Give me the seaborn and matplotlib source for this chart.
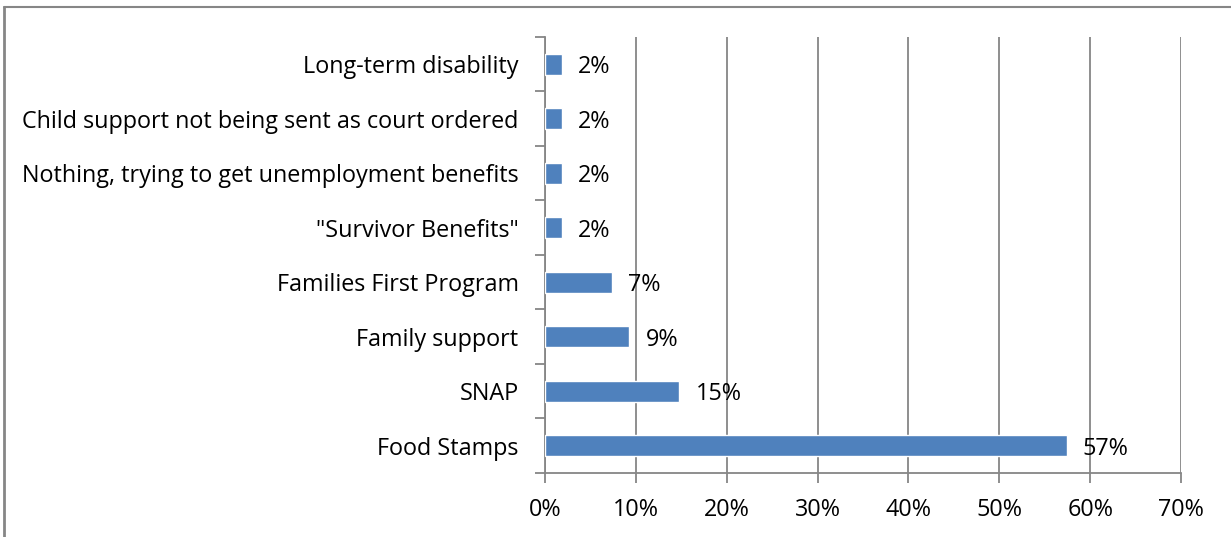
import numpy as np
import pandas as pd
import seaborn as sns
import matplotlib.pyplot as plt
from matplotlib.ticker import FixedLocator, PercentFormatter
from matplotlib.lines import Line2D

# data, top to bottom as shown
categories = [
    "Long-term disability",
    "Child support not being sent as court ordered",
    "Nothing, trying to get unemployment benefits",
    "\"Survivor Benefits\"",
    "Families First Program",
    "Family support",
    "SNAP",
    "Food Stamps",
]
values = [1.9, 1.9, 1.9, 1.9, 7.4, 9.3, 14.8, 57.4]
labels = ["2%", "2%", "2%", "2%", "7%", "9%", "15%", "57%"]

df = pd.DataFrame({"category": categories, "value": values})

sns.set_style("white")
plt.rcParams["font.family"] = ["Open Sans", "DejaVu Sans"]
plt.rcParams["text.color"] = "black"
plt.rcParams["xtick.labelcolor"] = "black"
plt.rcParams["ytick.labelcolor"] = "black"

fs = 16.8

fig = plt.figure(figsize=(12.31, 5.37), dpi=100)
ax = fig.add_axes([0.4427, 0.1192, 0.5167, 0.8119])

sns.barplot(data=df, y="category", x="value", orient="h", order=categories,
            color="#4F81BD", saturation=1, width=0.39, ax=ax, zorder=3)

# data labels
for i, (v, lab) in enumerate(zip(values, labels)):
    ax.annotate(lab, xy=(v, i), xytext=(11.5, -2), textcoords="offset points",
                va="center", ha="left", fontsize=fs, color="black")

ax.set_xlim(0, 70)
ax.set_ylim(len(categories) - 0.5, -0.5)
ax.set_xticks(np.arange(0, 71, 10))
ax.xaxis.set_major_formatter(PercentFormatter(decimals=0))
ax.set_xlabel("")
ax.set_ylabel("")

# gridlines
ax.grid(axis="x", color="#868686", linewidth=1.3, zorder=0)
ax.grid(axis="y", visible=False)

# spines
for s in ["top", "right"]:
    ax.spines[s].set_visible(False)
for s in ["left", "bottom"]:
    ax.spines[s].set_color("#868686")
    ax.spines[s].set_linewidth(1.3)

# ticks: category boundaries on y, outward ticks on x
ax.yaxis.set_minor_locator(FixedLocator(np.arange(-0.5, len(categories), 1)))
ax.tick_params(axis="y", which="major", length=0, pad=19, labelsize=fs, labelcolor="black")
ax.tick_params(axis="y", which="minor", length=7, width=1.3, color="#868686", left=True)
ax.tick_params(axis="x", which="major", length=7, width=1.3, color="#868686",
               bottom=True, pad=11, labelsize=fs, labelcolor="black")

# outer border (top and left edges visible in the crop)
fig.add_artist(Line2D([0.0035, 0.0035], [0, 0.987], transform=fig.transFigure,
                      color="#868686", linewidth=2))
fig.add_artist(Line2D([0.0035, 1.0], [0.987, 0.987], transform=fig.transFigure,
                      color="#868686", linewidth=1.5))

fig.savefig("out.png", dpi=100)
